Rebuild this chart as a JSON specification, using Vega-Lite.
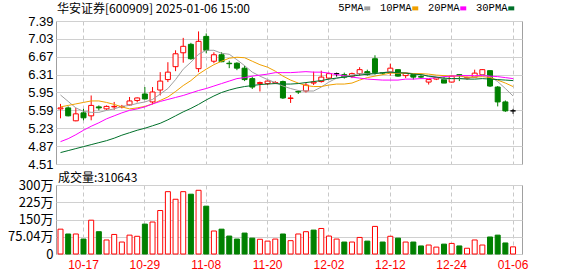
{
  "$schema": "https://vega.github.io/schema/vega-lite/v6.json",
  "autosize": {"type": "pad"},
  "padding": {"left": 7, "top": 2, "right": 0, "bottom": 0},
  "background": "white",
  "bounds": "flush",
  "spacing": 21,
  "config": {
    "view": {"stroke": "#a0a0a0"},
    "axis": {"labelFont": "Liberation Sans", "labelFontSize": 13, "labelColor": "#000", "ticks": false, "domain": false, "title": null, "gridColor": "#d0d0d0", "labelPadding": 3, "labelOverlap": false},
    "title": {"font": "Noto Sans CJK SC", "fontSize": 12, "fontWeight": "normal", "color": "#000", "anchor": "start", "frame": "group"}
  },
  "datasets": {
    "k": [
      {"d":"2024-10-14","o":5.62,"h":5.72,"l":5.43,"c":5.64,"v":1080000,"vu":1,"5PMA":5.90,"10PMA":5.66,"20PMA":4.96,"30PMA":4.74},
      {"d":"2024-10-15","o":5.64,"h":5.67,"l":5.47,"c":5.48,"v":870000,"vu":0,"5PMA":5.77,"10PMA":5.69,"20PMA":5.02,"30PMA":4.78},
      {"d":"2024-10-16","o":5.38,"h":5.64,"l":5.37,"c":5.52,"v":870000,"vu":1,"5PMA":5.64,"10PMA":5.72,"20PMA":5.10,"30PMA":4.82},
      {"d":"2024-10-17","o":5.54,"h":5.62,"l":5.39,"c":5.44,"v":650000,"vu":0,"5PMA":5.57,"10PMA":5.75,"20PMA":5.19,"30PMA":4.86},
      {"d":"2024-10-18","o":5.48,"h":5.89,"l":5.39,"c":5.69,"v":1470000,"vu":1,"5PMA":5.55,"10PMA":5.78,"20PMA":5.27,"30PMA":4.90},
      {"d":"2024-10-21","o":5.66,"h":5.69,"l":5.59,"c":5.64,"v":970000,"vu":0,"5PMA":5.55,"10PMA":5.78,"20PMA":5.34,"30PMA":4.94},
      {"d":"2024-10-22","o":5.62,"h":5.69,"l":5.60,"c":5.67,"v":610000,"vu":1,"5PMA":5.59,"10PMA":5.75,"20PMA":5.42,"30PMA":4.98},
      {"d":"2024-10-23","o":5.66,"h":5.76,"l":5.60,"c":5.67,"v":850000,"vu":1,"5PMA":5.62,"10PMA":5.71,"20PMA":5.48,"30PMA":5.03},
      {"d":"2024-10-24","o":5.66,"h":5.70,"l":5.63,"c":5.67,"v":520000,"vu":1,"5PMA":5.67,"10PMA":5.66,"20PMA":5.54,"30PMA":5.09},
      {"d":"2024-10-25","o":5.70,"h":5.86,"l":5.68,"c":5.78,"v":820000,"vu":1,"5PMA":5.69,"10PMA":5.62,"20PMA":5.59,"30PMA":5.14},
      {"d":"2024-10-28","o":5.79,"h":5.85,"l":5.75,"c":5.84,"v":770000,"vu":1,"5PMA":5.73,"10PMA":5.64,"20PMA":5.62,"30PMA":5.19},
      {"d":"2024-10-29","o":5.92,"h":6.06,"l":5.81,"c":5.82,"v":1300000,"vu":0,"5PMA":5.76,"10PMA":5.67,"20PMA":5.66,"30PMA":5.23},
      {"d":"2024-10-30","o":5.76,"h":6.06,"l":5.71,"c":5.96,"v":1390000,"vu":1,"5PMA":5.81,"10PMA":5.72,"20PMA":5.72,"30PMA":5.28},
      {"d":"2024-10-31","o":6.00,"h":6.36,"l":5.89,"c":6.18,"v":1890000,"vu":1,"5PMA":5.92,"10PMA":5.79,"20PMA":5.77,"30PMA":5.33},
      {"d":"2024-11-01","o":6.21,"h":6.56,"l":6.16,"c":6.36,"v":2710000,"vu":1,"5PMA":6.03,"10PMA":5.86,"20PMA":5.81,"30PMA":5.40},
      {"d":"2024-11-04","o":6.47,"h":6.80,"l":6.38,"c":6.73,"v":2380000,"vu":1,"5PMA":6.21,"10PMA":5.97,"20PMA":5.85,"30PMA":5.48},
      {"d":"2024-11-05","o":6.75,"h":7.05,"l":6.55,"c":6.88,"v":2710000,"vu":1,"5PMA":6.42,"10PMA":6.09,"20PMA":5.89,"30PMA":5.56},
      {"d":"2024-11-06","o":6.92,"h":6.95,"l":6.61,"c":6.63,"v":2600000,"vu":0,"5PMA":6.56,"10PMA":6.19,"20PMA":5.94,"30PMA":5.63},
      {"d":"2024-11-07","o":6.43,"h":7.18,"l":6.36,"c":6.98,"v":2770000,"vu":1,"5PMA":6.72,"10PMA":6.32,"20PMA":5.99,"30PMA":5.71},
      {"d":"2024-11-08","o":7.08,"h":7.14,"l":6.74,"c":6.80,"v":2080000,"vu":0,"5PMA":6.80,"10PMA":6.42,"20PMA":6.03,"30PMA":5.80},
      {"d":"2024-11-11","o":6.58,"h":6.76,"l":6.54,"c":6.71,"v":1000000,"vu":1,"5PMA":6.80,"10PMA":6.51,"20PMA":6.08,"30PMA":5.88},
      {"d":"2024-11-12","o":6.71,"h":6.76,"l":6.56,"c":6.57,"v":1080000,"vu":0,"5PMA":6.74,"10PMA":6.58,"20PMA":6.13,"30PMA":5.95},
      {"d":"2024-11-13","o":6.54,"h":6.59,"l":6.44,"c":6.53,"v":780000,"vu":0,"5PMA":6.72,"10PMA":6.64,"20PMA":6.18,"30PMA":6.00},
      {"d":"2024-11-14","o":6.54,"h":6.56,"l":6.40,"c":6.44,"v":650000,"vu":0,"5PMA":6.61,"10PMA":6.66,"20PMA":6.23,"30PMA":6.04},
      {"d":"2024-11-15","o":6.44,"h":6.49,"l":6.18,"c":6.21,"v":910000,"vu":0,"5PMA":6.49,"10PMA":6.65,"20PMA":6.25,"30PMA":6.07},
      {"d":"2024-11-18","o":6.23,"h":6.27,"l":6.02,"c":6.06,"v":690000,"vu":0,"5PMA":6.36,"10PMA":6.58,"20PMA":6.28,"30PMA":6.09},
      {"d":"2024-11-19","o":6.13,"h":6.17,"l":5.97,"c":6.15,"v":640000,"vu":1,"5PMA":6.28,"10PMA":6.51,"20PMA":6.30,"30PMA":6.11},
      {"d":"2024-11-20","o":6.13,"h":6.19,"l":6.10,"c":6.18,"v":560000,"vu":1,"5PMA":6.21,"10PMA":6.46,"20PMA":6.32,"30PMA":6.12},
      {"d":"2024-11-21","o":6.14,"h":6.18,"l":6.12,"c":6.15,"v":650000,"vu":1,"5PMA":6.15,"10PMA":6.38,"20PMA":6.35,"30PMA":6.13},
      {"d":"2024-11-22","o":6.17,"h":6.19,"l":5.82,"c":5.84,"v":870000,"vu":0,"5PMA":6.08,"10PMA":6.28,"20PMA":6.35,"30PMA":6.12},
      {"d":"2024-11-25","o":5.83,"h":5.90,"l":5.74,"c":5.84,"v":580000,"vu":1,"5PMA":6.03,"10PMA":6.20,"20PMA":6.35,"30PMA":6.12},
      {"d":"2024-11-26","o":5.97,"h":6.00,"l":5.92,"c":5.96,"v":870000,"vu":1,"5PMA":5.99,"10PMA":6.14,"20PMA":6.36,"30PMA":6.13},
      {"d":"2024-11-27","o":5.98,"h":6.15,"l":5.95,"c":6.10,"v":970000,"vu":1,"5PMA":5.98,"10PMA":6.09,"20PMA":6.37,"30PMA":6.15},
      {"d":"2024-11-28","o":6.14,"h":6.37,"l":6.10,"c":6.16,"v":1040000,"vu":0,"5PMA":5.98,"10PMA":6.07,"20PMA":6.36,"30PMA":6.17},
      {"d":"2024-11-29","o":6.17,"h":6.39,"l":6.15,"c":6.26,"v":1110000,"vu":1,"5PMA":6.06,"10PMA":6.07,"20PMA":6.36,"30PMA":6.19},
      {"d":"2024-12-02","o":6.24,"h":6.35,"l":6.22,"c":6.33,"v":780000,"vu":1,"5PMA":6.16,"10PMA":6.10,"20PMA":6.34,"30PMA":6.22},
      {"d":"2024-12-03","o":6.33,"h":6.35,"l":6.27,"c":6.33,"v":650000,"vu":1,"5PMA":6.24,"10PMA":6.12,"20PMA":6.31,"30PMA":6.24},
      {"d":"2024-12-04","o":6.31,"h":6.35,"l":6.23,"c":6.26,"v":520000,"vu":0,"5PMA":6.27,"10PMA":6.12,"20PMA":6.29,"30PMA":6.26},
      {"d":"2024-12-05","o":6.28,"h":6.35,"l":6.24,"c":6.33,"v":520000,"vu":1,"5PMA":6.30,"10PMA":6.14,"20PMA":6.26,"30PMA":6.28},
      {"d":"2024-12-06","o":6.33,"h":6.46,"l":6.29,"c":6.41,"v":720000,"vu":1,"5PMA":6.33,"10PMA":6.20,"20PMA":6.24,"30PMA":6.30},
      {"d":"2024-12-09","o":6.37,"h":6.41,"l":6.29,"c":6.31,"v":560000,"vu":0,"5PMA":6.33,"10PMA":6.25,"20PMA":6.22,"30PMA":6.32},
      {"d":"2024-12-10","o":6.63,"h":6.70,"l":6.31,"c":6.35,"v":1200000,"vu":1,"5PMA":6.33,"10PMA":6.28,"20PMA":6.21,"30PMA":6.33},
      {"d":"2024-12-11","o":6.35,"h":6.36,"l":6.31,"c":6.34,"v":520000,"vu":0,"5PMA":6.35,"10PMA":6.31,"20PMA":6.20,"30PMA":6.35},
      {"d":"2024-12-12","o":6.36,"h":6.53,"l":6.29,"c":6.44,"v":770000,"vu":1,"5PMA":6.37,"10PMA":6.34,"20PMA":6.20,"30PMA":6.36},
      {"d":"2024-12-13","o":6.41,"h":6.41,"l":6.27,"c":6.28,"v":690000,"vu":0,"5PMA":6.34,"10PMA":6.34,"20PMA":6.20,"30PMA":6.35},
      {"d":"2024-12-16","o":6.29,"h":6.36,"l":6.24,"c":6.34,"v":520000,"vu":1,"5PMA":6.35,"10PMA":6.34,"20PMA":6.22,"30PMA":6.34},
      {"d":"2024-12-17","o":6.31,"h":6.31,"l":6.21,"c":6.26,"v":520000,"vu":0,"5PMA":6.33,"10PMA":6.33,"20PMA":6.22,"30PMA":6.32},
      {"d":"2024-12-18","o":6.27,"h":6.31,"l":6.23,"c":6.26,"v":350000,"vu":0,"5PMA":6.32,"10PMA":6.33,"20PMA":6.23,"30PMA":6.31},
      {"d":"2024-12-19","o":6.16,"h":6.21,"l":6.11,"c":6.21,"v":390000,"vu":1,"5PMA":6.27,"10PMA":6.32,"20PMA":6.23,"30PMA":6.28},
      {"d":"2024-12-20","o":6.22,"h":6.26,"l":6.20,"c":6.25,"v":300000,"vu":1,"5PMA":6.26,"10PMA":6.30,"20PMA":6.25,"30PMA":6.26},
      {"d":"2024-12-23","o":6.21,"h":6.26,"l":6.14,"c":6.14,"v":430000,"vu":0,"5PMA":6.22,"10PMA":6.29,"20PMA":6.27,"30PMA":6.24},
      {"d":"2024-12-24","o":6.16,"h":6.29,"l":6.15,"c":6.28,"v":460000,"vu":1,"5PMA":6.23,"10PMA":6.28,"20PMA":6.28,"30PMA":6.23},
      {"d":"2024-12-25","o":6.31,"h":6.31,"l":6.18,"c":6.29,"v":350000,"vu":0,"5PMA":6.23,"10PMA":6.28,"20PMA":6.29,"30PMA":6.23},
      {"d":"2024-12-26","o":6.24,"h":6.27,"l":6.21,"c":6.25,"v":250000,"vu":1,"5PMA":6.24,"10PMA":6.26,"20PMA":6.29,"30PMA":6.22},
      {"d":"2024-12-27","o":6.26,"h":6.41,"l":6.26,"c":6.34,"v":610000,"vu":1,"5PMA":6.26,"10PMA":6.26,"20PMA":6.29,"30PMA":6.22},
      {"d":"2024-12-30","o":6.31,"h":6.42,"l":6.31,"c":6.41,"v":390000,"vu":1,"5PMA":6.31,"10PMA":6.27,"20PMA":6.29,"30PMA":6.23},
      {"d":"2024-12-31","o":6.39,"h":6.39,"l":6.06,"c":6.08,"v":740000,"vu":0,"5PMA":6.27,"10PMA":6.25,"20PMA":6.28,"30PMA":6.22},
      {"d":"2025-01-02","o":6.06,"h":6.08,"l":5.67,"c":5.76,"v":820000,"vu":0,"5PMA":6.17,"10PMA":6.20,"20PMA":6.27,"30PMA":6.21},
      {"d":"2025-01-03","o":5.76,"h":5.79,"l":5.56,"c":5.58,"v":480000,"vu":0,"5PMA":6.03,"10PMA":6.14,"20PMA":6.25,"30PMA":6.20},
      {"d":"2025-01-06","o":5.58,"h":5.62,"l":5.52,"c":5.58,"v":310643,"vu":1,"5PMA":5.88,"10PMA":6.07,"20PMA":6.23,"30PMA":6.19}
    ]
  },
  "vconcat": [
    {
      "width": 466,
      "height": 143,
      "title": {"text": "华安证券[600909] 2025-01-06 15:00", "offset": -1, "dx": 1},
      "data": {"name": "k"},
      "encoding": {
        "x": {
          "field": "d", "type": "ordinal",
          "scale": {"type": "band", "paddingInner": 0, "paddingOuter": 0.378, "align": 0.115},
          "axis": {"values": ["2024-10-17","2024-10-29","2024-11-08","2024-11-20","2024-12-02","2024-12-12","2024-12-24","2025-01-06"], "labels": false, "grid": true, "gridDash": [4, 3], "gridColor": "#c8c8c8", "bandPosition": 0.5}
        }
      },
      "layer": [
        {
          "mark": {"type": "rule", "strokeWidth": 1},
          "encoding": {
            "y": {"field": "l", "type": "quantitative", "scale": {"domain": [4.51, 7.39], "zero": false, "nice": false},
              "axis": {"values": [4.51, 4.87, 5.23, 5.59, 5.95, 6.31, 6.67, 7.03, 7.39], "format": ".2f", "grid": true, "labelOverlap": false, "labelFlush": false}},
            "y2": {"field": "h"},
            "stroke": {"condition": [{"test": "datum.c > datum.o", "value": "#ff0000"}, {"test": "datum.c < datum.o", "value": "#008000"}], "value": "#000000"}
          }
        },
        {
          "mark": {"type": "bar", "width": 5, "strokeWidth": 1},
          "encoding": {
            "y": {"field": "o", "type": "quantitative", "axis": {"values": [4.51, 4.87, 5.23, 5.59, 5.95, 6.31, 6.67, 7.03, 7.39], "format": ".2f", "grid": true, "labelOverlap": false, "labelFlush": false}},
            "y2": {"field": "c"},
            "fill": {"condition": [{"test": "datum.c > datum.o", "value": "#ffffff"}, {"test": "datum.c < datum.o", "value": "#008000"}], "value": "#000000"},
            "stroke": {"condition": [{"test": "datum.c > datum.o", "value": "#ff0000"}, {"test": "datum.c < datum.o", "value": "#008000"}], "value": "#000000"}
          }
        },
        {
          "transform": [{"fold": ["5PMA", "10PMA", "20PMA", "30PMA"], "as": ["ma", "val"]}],
          "mark": {"type": "line", "strokeWidth": 1},
          "encoding": {
            "y": {"field": "val", "type": "quantitative", "axis": {"values": [4.51, 4.87, 5.23, 5.59, 5.95, 6.31, 6.67, 7.03, 7.39], "format": ".2f", "grid": true, "labelOverlap": false, "labelFlush": false}},
            "color": {
              "field": "ma", "type": "nominal",
              "scale": {"domain": ["5PMA", "10PMA", "20PMA", "30PMA"], "range": ["#a0a0a0", "#f0a000", "#ff00ff", "#00702a"]},
              "legend": {
                "orient": "none", "legendX": 306, "legendY": -18, "direction": "horizontal", "title": null,
                "labelFont": "Liberation Mono", "labelFontSize": 10.5, "labelColor": "#000",
                "labelAlign": "right", "labelOffset": -9, "columnPadding": 8,
                "symbolType": "M-1.5,-1H1.5V1H-1.5Z", "symbolSize": 16, "symbolStrokeWidth": 0,
                "encode": {"symbols": {"update": {"fill": {"scale": "color", "field": "value"}, "fillOpacity": {"value": 1}}}}
              }
            }
          }
        }
      ]
    },
    {
      "width": 466,
      "height": 69,
      "title": {"text": "成交量:310643", "offset": -6, "dx": 2},
      "data": {"name": "k"},
      "mark": {"type": "bar", "width": 5, "strokeWidth": 1},
      "encoding": {
        "x": {
          "field": "d", "type": "ordinal",
          "scale": {"type": "band", "paddingInner": 0, "paddingOuter": 0.378, "align": 0.115},
          "axis": {"values": ["2024-10-17","2024-10-29","2024-11-08","2024-11-20","2024-12-02","2024-12-12","2024-12-24","2025-01-06"], "labelExpr": "slice(datum.value, 5)", "labelColor": "#ff0000", "labelFontSize": 12, "labelPadding": 5, "labelAngle": 0, "grid": true, "gridDash": [4, 3], "gridColor": "#c8c8c8", "bandPosition": 0.5}
        },
        "y": {"field": "v", "type": "quantitative", "scale": {"domain": [0, 3000000], "nice": false},
          "axis": {"values": [0, 750400, 1500000, 2250000, 3000000], "labelExpr": "datum.value == 0 ? '0' : (datum.value / 10000) + '万'", "grid": true, "labelFont": "Noto Sans CJK SC", "labelFontSize": 13, "labelOverlap": false, "labelFlush": false}},
        "fill": {"condition": {"test": "datum.vu == 1", "value": "#ffffff"}, "value": "#008000"},
        "stroke": {"condition": {"test": "datum.vu == 1", "value": "#ff0000"}, "value": "#008000"}
      }
    }
  ]
}
